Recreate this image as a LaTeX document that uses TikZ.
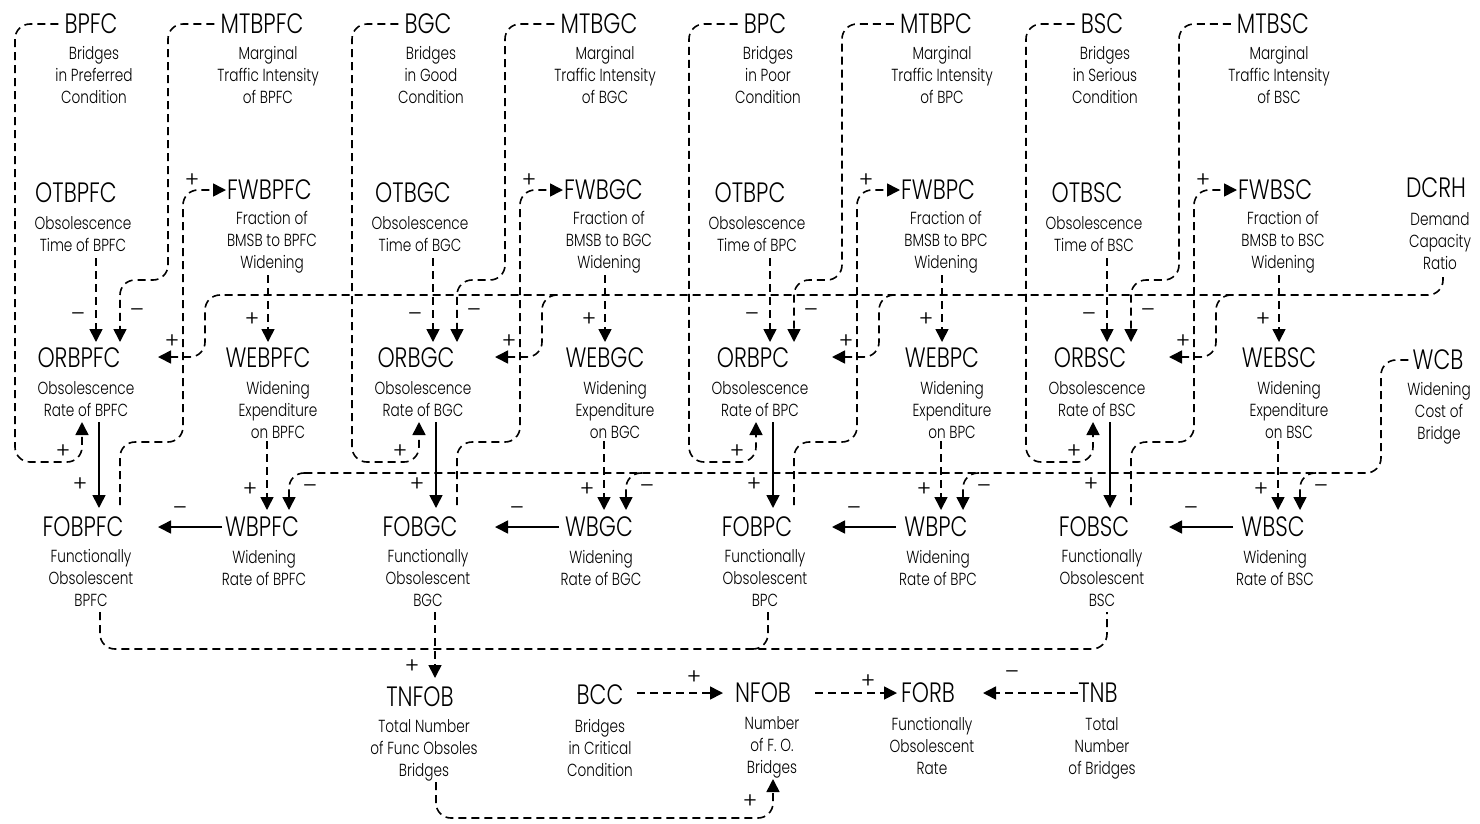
\documentclass[tikz,border=0pt]{standalone}
\usepackage{fontspec}
\setmainfont{Poppins}[UprightFont=* Light, FakeStretch=0.78]
\newfontfamily\signfont{Poppins}[UprightFont=* Light]
\usetikzlibrary{arrows.meta}

\newcommand{\pos}{+}
\newcommand{\negsign}{–}

\tikzset{
  vname/.style={font=\fontsize{28}{30}\selectfont, inner sep=1pt},
  vdesc/.style={font=\fontsize{17.5}{22}\selectfont, align=center, inner sep=0pt, anchor=north},
  link/.style={line width=1.6pt, dash pattern=on 8pt off 5pt, rounded corners=15pt},
  solidlink/.style={line width=1.6pt},
  headed/.style={-{Triangle[length=13pt,width=13pt]}},
  sign/.style={font=\signfont\fontsize{22}{22}\selectfont, inner sep=0pt}
}

\begin{document}
\begin{tikzpicture}[x=1pt,y=-1pt]
\useasboundingbox (0,0) rectangle (1480,823);

% ---- four identical sub-models, one per bridge condition class ----
\foreach \k/\n/\cond in {0/BPFC/Preferred,1/BGC/Good,2/BPC/Poor,3/BSC/Serious}{
\begin{scope}[xshift=\k*337pt]
  \node[vname] (B\n) at (91,24) {\n};
  \node[vdesc] (B\n-d) at (94,46) {Bridges\\in \cond\\Condition};
  \node[vname] (MT\n) at (262,24) {MT\n};
  \node[vdesc] (MT\n-d) at (268,46) {Marginal\\Traffic Intensity\\of \n};
  \node[vname] (OT\n) at (76,193) {OT\n};
  \node[vdesc] (OT\n-d) at (83,216) {Obsolescence\\Time of \n};
  \node[vname,anchor=west] (FW\n) at (226,190) {FW\n};
  \node[vdesc] (FW\n-d) at (272,211) {Fraction of\\BMSB to \n\\Widening};
  \node[vname] (OR\n) at (79,358) {OR\n};
  \node[vdesc] (OR\n-d) at (86,381) {Obsolescence\\Rate of \n};
  \node[vname] (WE\n) at (268,358) {WE\n};
  \node[vdesc] (WE\n-d) at (278,381) {Widening\\Expenditure\\on \n};
  \node[vname] (FO\n) at (83,527) {FO\n};
  \node[vdesc] (FO\n-d) at (91,549) {Functionally\\Obsolescent\\\n};
  \node[vname] (WB\n) at (262,527) {W\n};
  \node[vdesc] (WB\n-d) at (264,550) {Widening\\Rate of \n};

  % causal links inside the sub-model
  \draw[link,headed] ([xshift=-5pt]B\n.west) -| (15,462) -| (82,422);
  \draw[link,headed] ([xshift=-5pt]MT\n.west) -| (168,280) -| (120,342);
  \draw[link,headed] (96,258) -- (96,342);
  \draw[link,headed] (120,505) |- (183,442) |- (FW\n.west);
  \draw[link,headed] (220,295) -| (205,357) -- (158,357);
  \draw[link,headed] (268,275) -- (268,342);
  \draw[link,headed] (267,441) -- (267,510);
  \draw[link,headed] (305,473) -| (289,510);
  \draw[solidlink,headed] (222,527) -- (158,527);
  \draw[solidlink,headed] (99,422) -- (99,508);

  % link polarities
  \node[sign] at (63,452) {\pos};
  \node[sign] at (137,313) {\negsign};
  \node[sign] at (78,317) {\negsign};
  \node[sign] at (192,181) {\pos};
  \node[sign] at (172,342) {\pos};
  \node[sign] at (252,320) {\pos};
  \node[sign] at (250,490) {\pos};
  \node[sign] at (310,489) {\negsign};
  \node[sign] at (180,511) {\negsign};
  \node[sign] at (80,485) {\pos};
\end{scope}}

% ---- shared exogenous variables ----
\node[vname] (DCRH) at (1436,188) {DCRH};
\node[vdesc] (DCRH-d) at (1440,212) {Demand\\Capacity\\Ratio};
\node[vname] (WCB) at (1438,360) {WCB};
\node[vdesc] (WCB-d) at (1439,382) {Widening\\Cost of\\Bridge};

\draw[link] (1443,277) |- (220,295);
\draw[link] ([xshift=-3pt]WCB.west) -| (1381,473) -- (305,473);

% ---- aggregation of functionally obsolescent bridges ----
\node[vname] (TNFOB) at (420,697) {TNFOB};
\node[vdesc] (TNFOB-d) at (424,719) {Total Number\\of Func Obsoles\\Bridges};
\node[vname] (BCC) at (600,695) {BCC};
\node[vdesc] (BCC-d) at (600,719) {Bridges\\in Critical\\Condition};
\node[vname] (NFOB) at (763,693) {NFOB};
\node[vdesc] (NFOB-d) at (772,716) {Number\\of F. O.\\Bridges};
\node[vname] (FORB) at (928,693) {FORB};
\node[vdesc] (FORB-d) at (932,717) {Functionally\\Obsolescent\\Rate};
\node[vname] (TNB) at (1098,693) {TNB};
\node[vdesc] (TNB-d) at (1102,717) {Total\\Number\\of Bridges};

\draw[link] (100,612) |- (1107,649) -- (1107,612);
\draw[link] (768,612) |- (750,649);
\draw[link,headed] (435,612) -- (435,678);
\draw[link,headed] (436,782) |- (773,818) -- (773,779);
\draw[link,headed] (637,693) -- (723,693);
\draw[link,headed] (815,693) -- (897,693);
\draw[link,headed] (1078,693) -- (983,693);

\node[sign] at (412,667) {\pos};
\node[sign] at (750,802) {\pos};
\node[sign] at (694,678) {\pos};
\node[sign] at (868,682) {\pos};
\node[sign] at (1012,675) {\negsign};
\end{tikzpicture}
\end{document}
